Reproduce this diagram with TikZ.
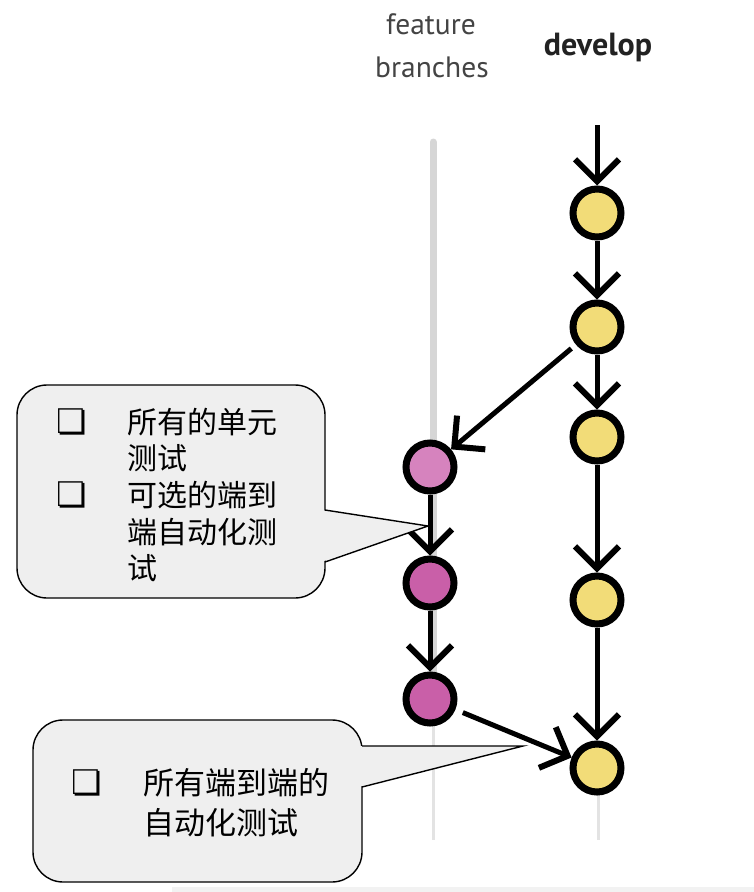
\documentclass[tikz,border=0pt]{standalone}
\usepackage{fontspec}
\newfontfamily\cjkf{Noto Sans CJK SC}
\newfontfamily\hdrf{PT Sans}
\newfontfamily\symf{DejaVu Sans}
\usetikzlibrary{arrows.meta}
\definecolor{devyel}{HTML}{F2DC78}
\definecolor{featpinkA}{HTML}{D683BE}
\definecolor{featpinkB}{HTML}{C95FA8}
\definecolor{calloutfill}{HTML}{EFEFEF}
\definecolor{railgrey}{HTML}{D6D6D6}
\definecolor{railfaint}{HTML}{E3E3E3}
\definecolor{hdrgrey}{HTML}{444444}
\definecolor{hdrdark}{HTML}{222222}
\definecolor{bandgrey}{HTML}{F2F2F2}
\tikzset{
 commit/.style={circle, draw=black, line width=7pt, minimum size=48pt, inner sep=0pt},
 flow/.style={line width=5pt, -{Straight Barb[length=22pt, width=44pt, line width=6pt]}},
 callout/.style={draw=black, line width=1.4pt, fill=calloutfill, rounded corners=30pt, rectangle, inner sep=0pt},
 pointerline/.style={draw=black, line width=1.4pt},
 cjktext/.style={font=\cjkf\fontsize{30}{36}\selectfont, anchor=west, inner sep=0pt},
 bulletmark/.style={font=\symf\bfseries\fontsize{34}{34}\selectfont, inner sep=0pt},
 hdr/.style={font=\hdrf\fontsize{29.5}{29}\selectfont, inner sep=0pt, anchor=base}
}
\begin{document}
\begin{tikzpicture}[x=1pt, y=-1pt]
\useasboundingbox (0,0) rectangle (754,892);
% bottom band
\fill[bandgrey] (172,887) rectangle (754,892);
% rails
\draw[railgrey, line width=7pt, line cap=round] (433,142) -- (433,700);
\draw[railfaint, line width=3pt] (433,700) -- (433,840);
\draw[railfaint, line width=3pt] (598,768) -- (598,840);
% headers
\node[hdr, text=hdrgrey] (hfeat) at (431,34) {feature};
\node[hdr, text=hdrgrey] (hbranch) at (432,77) {branches};
\node[hdr, text=hdrdark, font=\hdrf\bfseries\fontsize{32}{32}\selectfont] (hdev) at (598,55) {develop};
% commits
\coordinate (d0) at (597,125);
\node[commit, fill=devyel] (d1) at (597,213) {};
\node[commit, fill=devyel] (d2) at (597,327) {};
\node[commit, fill=devyel] (d3) at (597,437) {};
\node[commit, fill=devyel] (d4) at (597,600) {};
\node[commit, fill=devyel] (d5) at (597,768) {};
\node[commit, fill=featpinkA] (f1) at (430,467) {};
\node[commit, fill=featpinkB] (f2) at (430,583) {};
\node[commit, fill=featpinkB] (f3) at (430,699) {};
% flows
\draw[flow] (d0) -- (d1);
\draw[flow] (d1) -- (d2);
\draw[flow] (d2) -- (d3);
\draw[flow] (d3) -- (d4);
\draw[flow] (d4) -- (d5);
\draw[flow, shorten <=6pt] (d2) -- (f1);
\draw[flow] (f1) -- (f2);
\draw[flow] (f2) -- (f3);
\draw[flow, shorten <=8pt] (f3) -- (d5);
% callout 1
\node[callout, minimum width=308pt, minimum height=213pt] (c1) at (171,491.5) {};
\coordinate (c1tip) at (428,526);
\coordinate (c1a) at (325,510);
\coordinate (c1b) at (325,562);
\fill[calloutfill] (321,510) -- (c1tip) -- (321,562) -- cycle;
\draw[pointerline] (c1a) -- (c1tip) -- (c1b);
\node[bulletmark] (b1) at (72,422) {❏};
\node[bulletmark] (b2) at (72,495) {❏};
\node[cjktext] (l1) at (127,422) {所有的单元};
\node[cjktext] (l2) at (127,458) {测试};
\node[cjktext] (l3) at (127,495) {可选的端到};
\node[cjktext] (l4) at (127,532) {端自动化测};
\node[cjktext] (l5) at (127,568) {试};
% callout 2
\node[callout, minimum width=329pt, minimum height=162pt] (c2) at (197.5,801) {};
\coordinate (c2tip) at (523,746);
\coordinate (c2a) at (362,746);
\coordinate (c2b) at (362,787);
\fill[calloutfill] (358,746) -- (c2tip) -- (358,787) -- cycle;
\draw[pointerline] (c2a) -- (c2tip) -- (c2b);
\node[bulletmark] (b3) at (87,783) {❏};
\node[cjktext, font=\cjkf\fontsize{31}{36}\selectfont] (m1) at (143,783) {所有端到端的};
\node[cjktext, font=\cjkf\fontsize{31}{36}\selectfont] (m2) at (143,823) {自动化测试};
\end{tikzpicture}
\end{document}
